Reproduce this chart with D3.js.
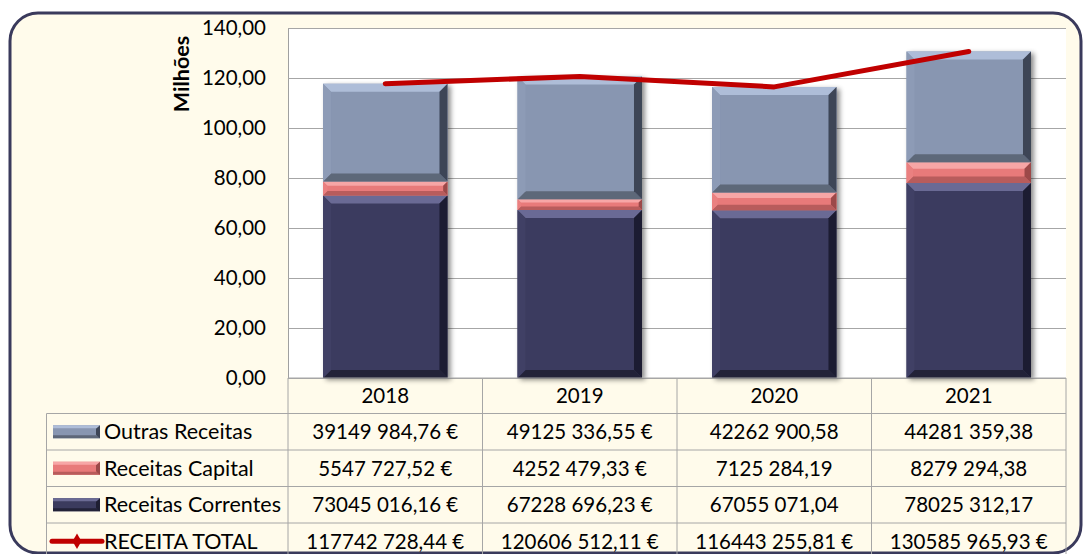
<!DOCTYPE html>
<html>
<head>
<meta charset="utf-8">
<script src="https://cdn.jsdelivr.net/npm/d3@7"></script>
<style>
  html, body { margin: 0; padding: 0; background: #ffffff; }
  svg { display: block; font-family: Lato, "Noto Sans", sans-serif; }
</style>
</head>
<body>
<div id="chart"></div>
<script>
// Data (euros)
const years = ["2018", "2019", "2020", "2021"];
const outrasReceitas = [39149984.76, 49125336.55, 42262900.58, 44281359.38];
const receitasCapital = [5547727.52, 4252479.33, 7125284.19, 8279294.38];
const receitasCorrentes = [73045016.16, 67228696.23, 67055071.04, 78025312.17];
const receitaTotal = [117742728.44, 120606512.11, 116443255.81, 130585965.93];
// the source table shows the euro sign only on some cells
const euroSign = [true, true, false, false];
const yTicks = [0, 20e6, 40e6, 60e6, 80e6, 100e6, 120e6, 140e6];

const W = 1084, H = 554;
let margin = {top: 28, left: 288, right: 18};
let plotBottom = 378;

let svg = d3.select("#chart")
    .append("svg")
    .attr("width", W)
    .attr("height", H);

let defs = svg.append("defs");
let shadow = defs.append("filter")
    .attr("id", "shadow")
    .attr("x", "-10%").attr("y", "-10%")
    .attr("width", "130%").attr("height", "130%");
shadow.append("feDropShadow")
    .attr("dx", 3).attr("dy", 2)
    .attr("stdDeviation", 2.5)
    .attr("flood-color", "#000")
    .attr("flood-opacity", 0.45);

// Panel
svg.append("rect")
    .attr("x", 10).attr("y", 13)
    .attr("width", 1071).attr("height", 540)
    .attr("rx", 28).attr("ry", 28)
    .attr("fill", "#fffbeb")
    .attr("stroke", "#3a3a5c")
    .attr("stroke-width", 3);

// Scales
let x = d3.scaleBand()
    .domain(years)
    .range([margin.left, W - margin.right])
    .paddingInner(0.36)
    .paddingOuter(0.18);

let y = d3.scaleLinear()
    .domain([0, 140e6])
    .range([plotBottom, margin.top]);

const ptFormat = d3.formatLocale({decimal: ",", thousands: " ", grouping: [3], currency: ["", " €"]});
const tickFmt = v => ptFormat.format(".2f")(v / 1e6);

function money(v, euro) {
    let s = v.toFixed(2).split(".");
    let ip = s[0];
    let txt = ip.slice(0, -3) + " " + ip.slice(-3) + "," + s[1];
    return euro ? txt + " €" : txt;
}

// Plot area
svg.append("rect")
    .attr("x", margin.left).attr("y", margin.top)
    .attr("width", W - margin.right - margin.left)
    .attr("height", plotBottom - margin.top)
    .attr("fill", "#ffffff");

// Gridlines + y axis
let yAxis = svg.append("g")
    .attr("transform", "translate(" + margin.left + ",0)")
    .call(d3.axisLeft(y)
        .tickValues(yTicks)
        .tickFormat(tickFmt)
        .tickSize(-(W - margin.right - margin.left))
        .tickPadding(22));
yAxis.select(".domain").attr("stroke", "#a0a0a0");
yAxis.selectAll(".tick line").attr("stroke", "#a6a6a6");
yAxis.selectAll(".tick text")
    .attr("fill", "#000")
    .style("font-size", "20.5px")
    .style("font-family", "Lato, sans-serif");

svg.append("text")
    .attr("transform", "translate(189,74) rotate(-90)")
    .attr("text-anchor", "middle")
    .style("font-size", "21.5px")
    .style("font-weight", "bold")
    .text("Milhões");

// Stacked bars with bevel look
const series = [
    {name: "Receitas Correntes", values: receitasCorrentes,
        face: "#3b3b5e", top: "#6b6b95", left: "#404065", right: "#1e1e32", bottom: "#222238"},
    {name: "Receitas Capital", values: receitasCapital,
        face: "#e87a7a", top: "#f7a6a6", left: "#ea8080", right: "#9c4a4a", bottom: "#b85c5c"},
    {name: "Outras Receitas", values: outrasReceitas,
        face: "#8896b1", top: "#aebdd8", left: "#8d9bb6", right: "#3d4556", bottom: "#5d6779"}
];

let stack = d3.stack()
    .keys(series.map((s, i) => i))
    .value((d, k) => series[k].values[d]);
let stacked = stack(years.map((d, i) => i));

function bevel(g, bx, by, bw, bh, c) {
    let b = Math.min(8, bh / 3.2);
    let pts = {
        face: [[bx, by], [bx + bw, by], [bx + bw, by + bh], [bx, by + bh]],
        top: [[bx, by], [bx + bw, by], [bx + bw - b, by + b], [bx + b, by + b]],
        bottom: [[bx, by + bh], [bx + bw, by + bh], [bx + bw - b, by + bh - b], [bx + b, by + bh - b]],
        left: [[bx, by], [bx + b, by + b], [bx + b, by + bh - b], [bx, by + bh]],
        right: [[bx + bw, by], [bx + bw - b, by + b], [bx + bw - b, by + bh - b], [bx + bw, by + bh]]
    };
    ["face", "top", "bottom", "left", "right"].forEach(k => {
        g.append("polygon")
            .attr("points", pts[k].map(p => p.join(",")).join(" "))
            .attr("fill", c[k]);
    });
}

let barGroups = svg.append("g")
    .selectAll("g")
    .data(years)
    .enter()
    .append("g")
    .attr("filter", "url(#shadow)");

barGroups.each(function(yr, i) {
    let g = d3.select(this);
    stacked.forEach((layer, k) => {
        let d = layer[i];
        let y0 = y(d[1]), y1 = y(d[0]);
        bevel(g, x(yr), y0, x.bandwidth(), y1 - y0, series[k]);
    });
});

// Total line
let line = d3.line()
    .x((d, i) => x(years[i]) + x.bandwidth() / 2)
    .y(d => y(d));
svg.append("path")
    .datum(receitaTotal)
    .attr("d", line)
    .attr("fill", "none")
    .attr("stroke", "#c00000")
    .attr("stroke-width", 5)
    .attr("stroke-linecap", "round")
    .attr("stroke-linejoin", "round");

// Data table
const gridCol = "#a6a6a6";
let step = x.step();
let colEdges = years.map((d, i) => margin.left + i * step).concat([W - margin.right]);
let tableLeft = 46.5;
let headerBottom = 413.5;
let rowH = 36.5;
let rows = [
    {label: "Outras Receitas", values: outrasReceitas, euro: euroSign, sym: series[2]},
    {label: "Receitas Capital", values: receitasCapital, euro: euroSign, sym: series[1]},
    {label: "Receitas Correntes", values: receitasCorrentes, euro: euroSign, sym: series[0]},
    {label: "RECEITA TOTAL", values: receitaTotal, euro: years.map(() => true), sym: null}
];

let table = svg.append("g");
// horizontal lines
table.append("line")
    .attr("x1", margin.left).attr("x2", W - margin.right)
    .attr("y1", plotBottom).attr("y2", plotBottom)
    .attr("stroke", gridCol);
for (let r = 0; r <= rows.length; r++) {
    table.append("line")
        .attr("x1", tableLeft).attr("x2", W - margin.right)
        .attr("y1", headerBottom + r * rowH).attr("y2", headerBottom + r * rowH)
        .attr("stroke", gridCol);
}
// vertical lines
colEdges.forEach(cx => {
    table.append("line")
        .attr("x1", cx).attr("x2", cx)
        .attr("y1", plotBottom).attr("y2", headerBottom + rows.length * rowH)
        .attr("stroke", gridCol);
});
table.append("line")
    .attr("x1", tableLeft).attr("x2", tableLeft)
    .attr("y1", headerBottom).attr("y2", headerBottom + rows.length * rowH)
    .attr("stroke", gridCol);

// header
table.selectAll(".yr")
    .data(years)
    .enter()
    .append("text")
    .attr("x", d => x(d) + x.bandwidth() / 2)
    .attr("y", (plotBottom + headerBottom) / 2)
    .attr("dy", "0.36em")
    .attr("text-anchor", "middle")
    .style("font-size", "20.5px")
    .text(d => d);

rows.forEach((row, r) => {
    let cy = headerBottom + r * rowH + rowH / 2;
    // legend symbol
    if (row.sym) {
        let sg = table.append("g");
        let c = row.sym;
        sg.append("rect").attr("x", 53).attr("y", cy - 6.5).attr("width", 47).attr("height", 13).attr("fill", c.face);
        sg.append("rect").attr("x", 53).attr("y", cy - 6.5).attr("width", 47).attr("height", 3).attr("fill", c.top);
        sg.append("rect").attr("x", 53).attr("y", cy + 3.5).attr("width", 47).attr("height", 3).attr("fill", c.bottom);
        sg.append("polygon")
            .attr("points", [[100, cy - 6.5], [96, cy - 3], [96, cy + 3], [100, cy + 6.5]].map(p => p.join(",")).join(" "))
            .attr("fill", c.right);
    } else {
        table.append("line")
            .attr("x1", 52).attr("x2", 102)
            .attr("y1", cy).attr("y2", cy)
            .attr("stroke", "#c00000").attr("stroke-width", 5)
            .attr("stroke-linecap", "round");
        table.append("path")
            .attr("d", d3.symbol(d3.symbolDiamond, 70)())
            .attr("transform", "translate(77," + cy + ")")
            .attr("fill", "#c00000");
    }
    table.append("text")
        .attr("x", 104)
        .attr("y", cy)
        .attr("dy", "0.36em")
        .style("font-size", "21.5px")
        .text(row.label);

    row.values.forEach((v, i) => {
        table.append("text")
            .attr("x", x(years[i]) + x.bandwidth() / 2)
            .attr("y", cy)
            .attr("dy", "0.36em")
            .attr("text-anchor", "middle")
            .style("font-size", "20.5px")
            .text(money(v, row.euro[i]));
    });
});
</script>
</body>
</html>
